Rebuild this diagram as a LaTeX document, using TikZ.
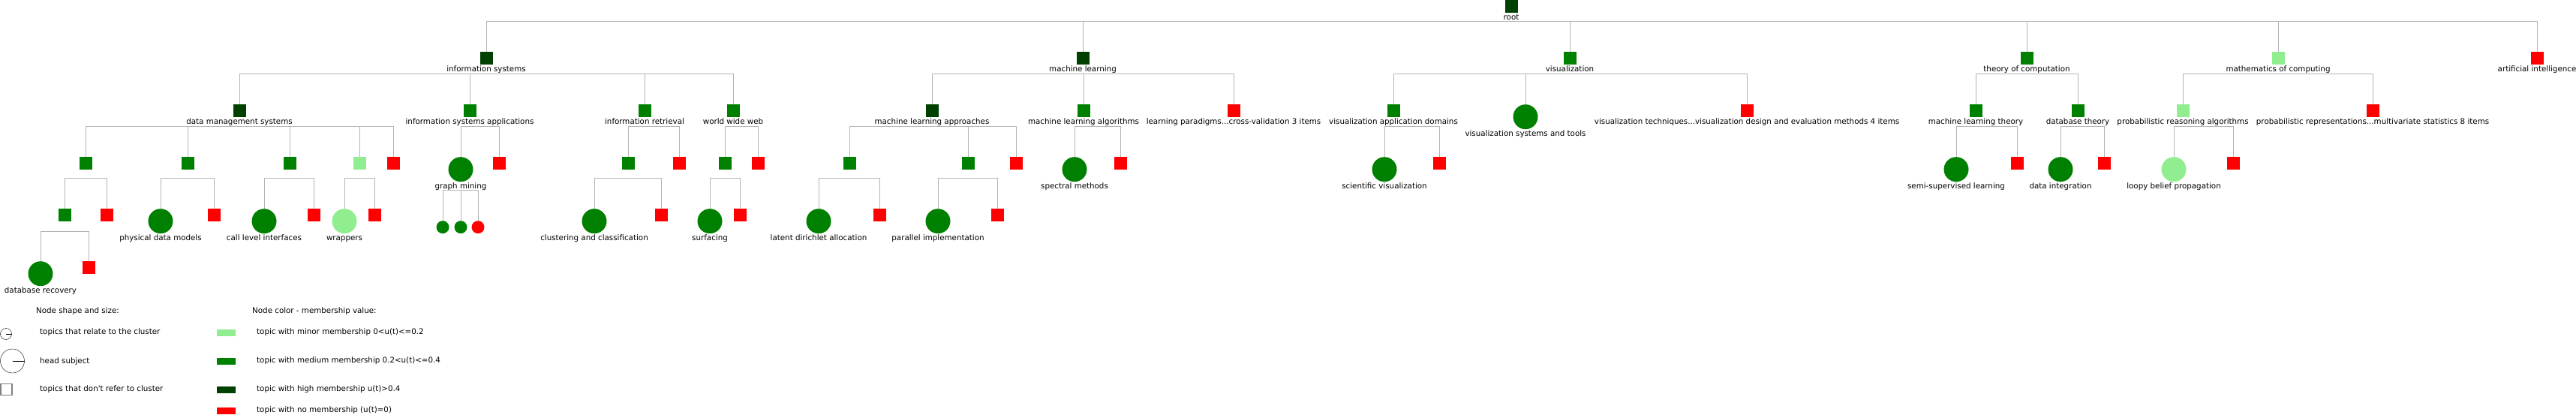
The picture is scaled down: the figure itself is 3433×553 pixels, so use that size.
\documentclass[tikz,border=0pt]{standalone}
\usepackage{fontspec}
\setmainfont{DejaVu Sans}
\usepackage{tikz}

\definecolor{high}{RGB}{0,64,0}
\definecolor{medium}{RGB}{0,128,0}
\definecolor{minor}{RGB}{144,238,144}
\definecolor{nomember}{RGB}{255,0,0}
\definecolor{linkgray}{RGB}{180,180,180}
\newcommand{\topicfont}{\fontsize{10.3}{12}\selectfont}

\tikzset{
	topic/.style={shape=rectangle, minimum width=17pt, minimum height=17pt, inner sep=0pt, anchor=north, fill=#1},
	head/.style={shape=circle, minimum size=33pt, inner sep=0pt, anchor=north, fill=#1},
	leaf/.style={shape=circle, minimum size=17pt, inner sep=0pt, anchor=north, fill=#1},
	swatch/.style={shape=rectangle, minimum width=25pt, minimum height=9pt, inner sep=0pt, fill=#1},
	keytext/.style={font=\topicfont, anchor=west, inner sep=0pt},
	every label/.style={font=\topicfont, inner sep=0pt, text height=7.6pt, text depth=2.4pt},
	label distance=1pt,
	link/.style={draw=linkgray, line width=1pt},
}

\begin{document}
\begin{tikzpicture}[x=1pt, y=-1pt]
	
	\useasboundingbox (0,0) rectangle (3433,553);
	
	\node[topic=high, label=below:root] (root) at (2014, 0) {};
	
	\node[topic=high, label=below:information systems] (is) at (648, 69) {};
	\node[topic=high, label=below:machine learning] (ml) at (1443, 69) {};
	\node[topic=medium, label=below:visualization] (viz) at (2092, 69) {};
	\node[topic=medium, label=below:theory of computation] (toc) at (2701, 69) {};
	\node[topic=minor, label=below:mathematics of computing] (moc) at (3036, 69) {};
	\node[topic=nomember, label=below:artificial intelligence] (ai) at (3381, 69) {};
	
	\node[topic=high, label=below:data management systems] (dms) at (319, 139) {};
	\node[topic=medium, label=below:information systems applications] (isa) at (626, 139) {};
	\node[topic=medium, label=below:information retrieval] (ir) at (859, 139) {};
	\node[topic=medium, label=below:world wide web] (www) at (977, 139) {};
	\node[topic=high, label=below:machine learning approaches] (mla) at (1242, 139) {};
	\node[topic=medium, label=below:machine learning algorithms] (mlalg) at (1444, 139) {};
	\node[topic=nomember, label=below:learning paradigms...cross-validation 3 items] (lp) at (1644, 139) {};
	\node[topic=medium, label=below:visualization application domains] (vad) at (1857, 139) {};
	\node[head=medium, label=below:visualization systems and tools] (vst) at (2033, 139) {};
	\node[topic=nomember, label=below:visualization techniques...visualization design and evaluation methods 4 items] (vtech) at (2328, 139) {};
	\node[topic=medium, label=below:machine learning theory] (mlt) at (2633, 139) {};
	\node[topic=medium, label=below:database theory] (dbt) at (2769, 139) {};
	\node[topic=minor, label=below:probabilistic reasoning algorithms] (pra) at (2909, 139) {};
	\node[topic=nomember, label=below:probabilistic representations...multivariate statistics 8 items] (prep) at (3162, 139) {};
	
	\node[topic=medium] (dms1) at (114, 209) {};
	\node[topic=medium] (dms2) at (250, 209) {};
	\node[topic=medium] (dms3) at (386, 209) {};
	\node[topic=minor] (dms4) at (479, 209) {};
	\node[topic=nomember] (dms5) at (524, 209) {};
	\node[head=medium, label=below:graph mining] (gm) at (614, 209) {};
	\node[topic=nomember] (isa2) at (665, 209) {};
	\node[topic=medium] (ir1) at (837, 209) {};
	\node[topic=nomember] (ir2) at (905, 209) {};
	\node[topic=medium] (www1) at (966, 209) {};
	\node[topic=nomember] (www2) at (1010, 209) {};
	\node[topic=medium] (mla1) at (1132, 209) {};
	\node[topic=medium] (mla2) at (1290, 209) {};
	\node[topic=nomember] (mla3) at (1354, 209) {};
	\node[head=medium, label=below:spectral methods] (sm) at (1432, 209) {};
	\node[topic=nomember] (mlalg2) at (1493, 209) {};
	\node[head=medium, label=below:scientific visualization] (sv) at (1845, 209) {};
	\node[topic=nomember] (vad2) at (1918, 209) {};
	\node[head=medium, label=below:semi-supervised learning] (ssl) at (2607, 209) {};
	\node[topic=nomember] (mlt2) at (2688, 209) {};
	\node[head=medium, label=below:data integration] (di) at (2746, 209) {};
	\node[topic=nomember] (dbt2) at (2804, 209) {};
	\node[head=minor, label=below:loopy belief propagation] (lbp) at (2897, 209) {};
	\node[topic=nomember] (pra2) at (2976, 209) {};
	
	\node[topic=medium] (dms11) at (86, 278) {};
	\node[topic=nomember] (dms12) at (142, 278) {};
	\node[head=medium, label=below:physical data models] (pdm) at (214, 278) {};
	\node[topic=nomember] (dms22) at (285, 278) {};
	\node[head=medium, label=below:call level interfaces] (cli) at (352, 278) {};
	\node[topic=nomember] (dms32) at (418, 278) {};
	\node[head=minor, label=below:wrappers] (wr) at (459, 278) {};
	\node[topic=nomember] (dms42) at (499, 278) {};
	\node[leaf=medium] (gm1) at (590, 294) {};
	\node[leaf=medium] (gm2) at (614, 294) {};
	\node[leaf=nomember] (gm3) at (637, 294) {};
	\node[head=medium, label=below:clustering and classification] (cc) at (792, 278) {};
	\node[topic=nomember] (ir12) at (881, 278) {};
	\node[head=medium, label=below:surfacing] (surf) at (946, 278) {};
	\node[topic=nomember] (www12) at (986, 278) {};
	\node[head=medium, label=below:latent dirichlet allocation] (lda) at (1091, 278) {};
	\node[topic=nomember] (mla12) at (1172, 278) {};
	\node[head=medium, label=below:parallel implementation] (pi) at (1250, 278) {};
	\node[topic=nomember] (mla22) at (1329, 278) {};
	
	\node[head=medium, label=below:database recovery] (dr) at (54, 348) {};
	\node[topic=nomember] (dms112) at (118, 348) {};
	
	\draw[link] (is.north) -- ++(0,-40) -| (ai.north);
	\draw[link] (ml.north) -- ++(0,-40);
	\draw[link] (viz.north) -- ++(0,-40);
	\draw[link] (toc.north) -- ++(0,-40);
	\draw[link] (moc.north) -- ++(0,-40);
	
	\draw[link] (dms.north) -- ++(0,-40) -| (www.north);
	\draw[link] (isa.north) -- ++(0,-40);
	\draw[link] (ir.north) -- ++(0,-40);
	\draw[link] (mla.north) -- ++(0,-40) -| (lp.north);
	\draw[link] (mlalg.north) -- ++(0,-40);
	\draw[link] (vad.north) -- ++(0,-40) -| (vtech.north);
	\draw[link] (vst.north) -- ++(0,-40);
	\draw[link] (mlt.north) -- ++(0,-40) -| (dbt.north);
	\draw[link] (pra.north) -- ++(0,-40) -| (prep.north);
	
	\draw[link] (dms1.north) -- ++(0,-40) -| (dms5.north);
	\draw[link] (dms2.north) -- ++(0,-40);
	\draw[link] (dms3.north) -- ++(0,-40);
	\draw[link] (dms4.north) -- ++(0,-40);
	\draw[link] (gm.north) -- ++(0,-40) -| (isa2.north);
	\draw[link] (ir1.north) -- ++(0,-40) -| (ir2.north);
	\draw[link] (www1.north) -- ++(0,-40) -| (www2.north);
	\draw[link] (mla1.north) -- ++(0,-40) -| (mla3.north);
	\draw[link] (mla2.north) -- ++(0,-40);
	\draw[link] (sm.north) -- ++(0,-40) -| (mlalg2.north);
	\draw[link] (sv.north) -- ++(0,-40) -| (vad2.north);
	\draw[link] (ssl.north) -- ++(0,-40) -| (mlt2.north);
	\draw[link] (di.north) -- ++(0,-40) -| (dbt2.north);
	\draw[link] (lbp.north) -- ++(0,-40) -| (pra2.north);
	
	\draw[link] (dms11.north) -- ++(0,-40) -| (dms12.north);
	\draw[link] (pdm.north) -- ++(0,-40) -| (dms22.north);
	\draw[link] (cli.north) -- ++(0,-40) -| (dms32.north);
	\draw[link] (wr.north) -- ++(0,-40) -| (dms42.north);
	\draw[link] (gm1.north) -- ++(0,-40) -| (gm3.north);
	\draw[link] (gm2.north) -- ++(0,-40);
	\draw[link] (cc.north) -- ++(0,-40) -| (ir12.north);
	\draw[link] (surf.north) -- ++(0,-40) -| (www12.north);
	\draw[link] (lda.north) -- ++(0,-40) -| (mla12.north);
	\draw[link] (pi.north) -- ++(0,-40) -| (mla22.north);
	
	\draw[link] (dr.north) -- ++(0,-40) -| (dms112.north);
	
	\node[keytext] (shapekey) at (48, 415) {Node shape and size:};
	\node[shape=circle, draw=black, minimum size=15pt, inner sep=0pt] (keysub) at (8, 445) {};
	\draw (keysub.center) -- (keysub.east);
	\node[keytext] (keysubtxt) at (53, 443) {topics that relate to the cluster};
	\node[shape=circle, draw=black, minimum size=32pt, inner sep=0pt] (keyhead) at (16.5, 481) {};
	\draw (keyhead.center) -- (keyhead.east);
	\node[keytext] (keyheadtxt) at (53, 482) {head subject};
	\node[shape=rectangle, draw=gray, line width=1.5pt, minimum size=15pt, inner sep=0pt] (keyother) at (8.5, 519) {};
	\node[keytext] (keyothertxt) at (53, 519) {topics that don\textquotesingle t refer to cluster};
	
	\node[keytext] (colorkey) at (336, 415) {Node color - membership value:};
	\node[swatch=minor] (keyminor) at (301, 443) {};
	\node[keytext] (keyminortxt) at (342, 443) {topic with minor membership 0<u(t)<=0.2};
	\node[swatch=medium] (keymedium) at (301, 481) {};
	\node[keytext] (keymediumtxt) at (342, 481) {topic with medium membership 0.2<u(t)<=0.4};
	\node[swatch=high] (keyhigh) at (301, 519) {};
	\node[keytext] (keyhightxt) at (342, 519) {topic with high membership u(t)>0.4};
	\node[swatch=nomember] (keynone) at (301, 547) {};
	\node[keytext] (keynonetxt) at (342, 547) {topic with no membership (u(t)=0)};
	
\end{tikzpicture}
\end{document}
